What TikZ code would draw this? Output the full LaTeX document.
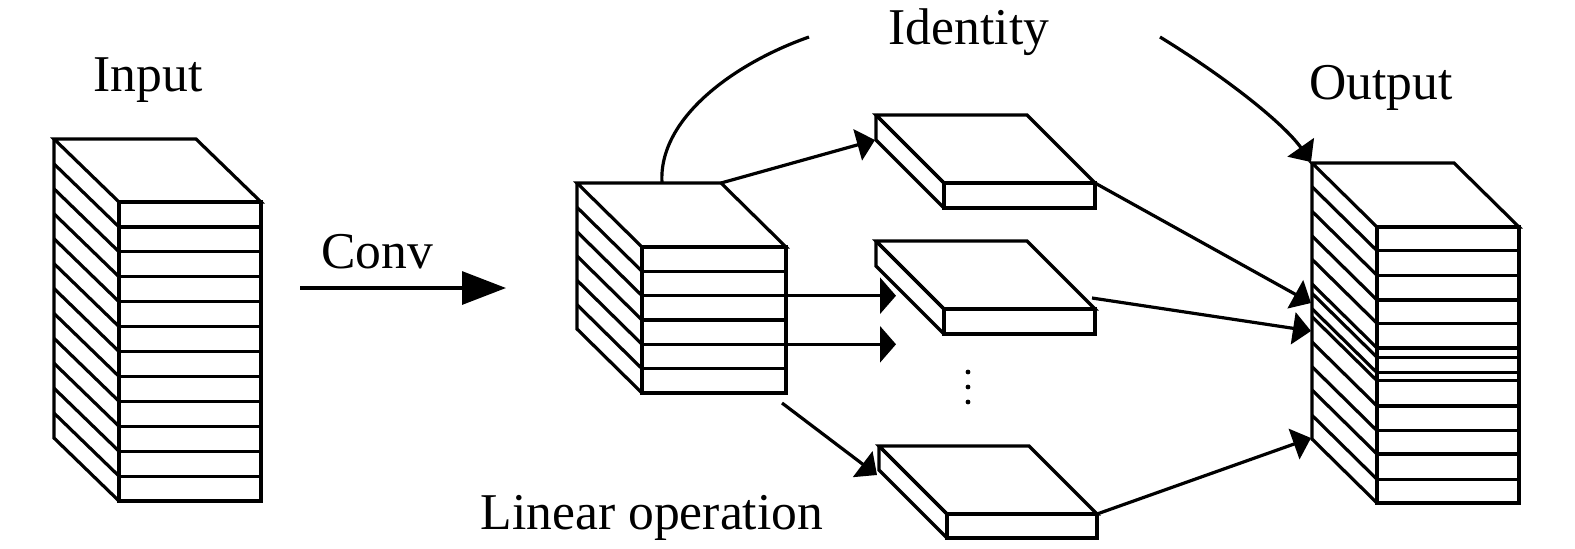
\documentclass[tikz,border=0pt]{standalone}
\usepackage{fontspec}
\setmainfont{Liberation Serif}
\usetikzlibrary{arrows.meta}
% #1 front-left x, #2 front-right x, #3 dx, #4 dy, #5 top y, #6 inner lines, #7 bottom y
\newcommand\drawstack[7]{%
  \fill[white] (#1-#3,#5-#4) -- (#2-#3,#5-#4) -- (#2,#5) -- (#2,#7) -- (#1,#7) -- (#1-#3,#7-#4) -- cycle;
  \draw (#1-#3,#5-#4) -- (#2-#3,#5-#4) -- (#2,#5) -- (#1,#5) -- cycle;
  \draw (#1,#5) rectangle (#2,#7);
  \draw (#1-#3,#5-#4) -- (#1-#3,#7-#4) -- (#1,#7);
  \foreach \yy in {#6} {\draw (#1-#3,\yy-#4) -- (#1,\yy); \draw (#1,\yy) -- (#2,\yy);}
}
\begin{document}
\begin{tikzpicture}[x=0.5pt,y=-0.5pt,line width=1.6pt,
  arr/.style={-{Triangle[length=9pt,width=16pt]}},
  harr/.style={-{Triangle[length=8pt,width=18pt]}},
  bigarr/.style={-{Triangle[length=22pt,width=16.5pt]}},
  lbl/.style={anchor=base,inner sep=0pt,font=\fontsize{25.8pt}{30pt}\selectfont}]
\useasboundingbox (0,0) rectangle (1575,548);

% input stack
\drawstack{119}{261}{65}{63}{202}{226.9,251.8,276.75,301.7,326.6,351.5,376.4,401.3,426.25,451.2,476.1}{501}
% conv output stack
\drawstack{642}{786}{65}{64}{247}{271.3,295.7,320,344.3,368.7}{393}
% slabs
\drawstack{944}{1095}{68}{68}{183}{183}{208}
\drawstack{944}{1095}{68}{68}{309}{309}{334}
\drawstack{947}{1097}{68}{68}{514}{514}{538}
% output stack
\drawstack{1377}{1519}{65}{64}{227}{250.7,275.3,300,323.3,348,357.3,372.7,380.7,406,430.7,454,479.3}{503}

% dots
\fill (968,372) circle (1.2pt);
\fill (968,387) circle (1.2pt);
\fill (968,402) circle (1.2pt);

% labels
\node[lbl] (inputlbl) at (148,91) {Input};
\node[lbl] (convlbl) at (377,268) {Conv};
\node[lbl] (idlbl) at (969,44) {Identity};
\node[lbl] (outlbl) at (1381,99) {Output};
\node[lbl] (linlbl) at (652,529) {Linear operation};

% connector end points
\coordinate (convS) at (300,288);
\coordinate (convE) at (506,288);
\coordinate (midTop) at (662,183);
\coordinate (idL) at (809,37);
\coordinate (idR) at (1160,37);
\coordinate (outTL) at (1311,162);
\coordinate (midTR) at (721,183);
\coordinate (s1L) at (875,140);
\coordinate (midA) at (786,295.7);
\coordinate (midAe) at (896,295.7);
\coordinate (midB) at (786,344.3);
\coordinate (midBe) at (896,344.3);
\coordinate (midC) at (782,403);
\coordinate (s3L) at (877,475);
\coordinate (s1R) at (1095,183);
\coordinate (s2R) at (1092,298);
\coordinate (s3R) at (1097,514);
\coordinate (oA) at (1311,303);
\coordinate (oB) at (1311,331);
\coordinate (oC) at (1311,438);

% connectors
\draw[bigarr] (convS) -- (convE);
\draw (midTop) .. controls (658,118) and (735,63) .. (idL);
\draw[arr] (idR) .. controls (1230,80) and (1285,125) .. (outTL);
\draw[arr] (midTR) -- (s1L);
\draw[harr] (midA) -- (midAe);
\draw[harr] (midB) -- (midBe);
\draw[arr] (midC) -- (s3L);
\draw[arr] (s1R) -- (oA);
\draw[arr] (s2R) -- (oB);
\draw[arr] (s3R) -- (oC);
\end{tikzpicture}
\end{document}
